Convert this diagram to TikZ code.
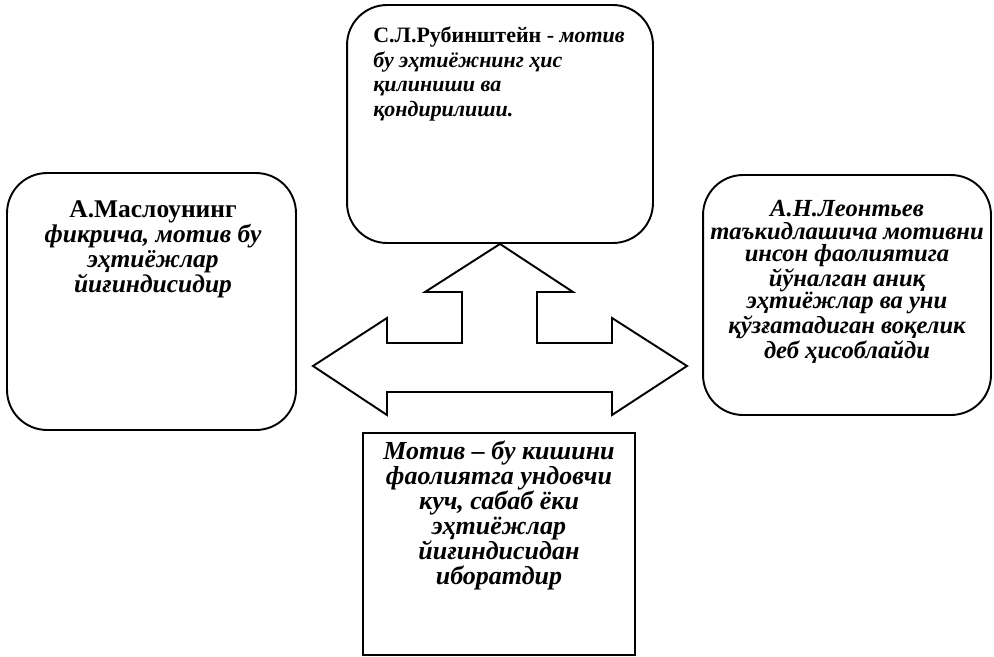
\documentclass[tikz,border=0pt]{standalone}
\usepackage{fontspec}
\setmainfont{Liberation Serif}

\tikzset{
  frame/.style={draw, line width=1.1pt, rounded corners=0.8cm, inner sep=0pt},
  plainframe/.style={draw, line width=1.1pt, inner sep=0pt},
  txt/.style={inner sep=0pt, anchor=north, align=center,
    font=\fontsize{12.5}{14.2}\selectfont\bfseries\itshape}
}

\begin{document}
\begin{tikzpicture}[x=0.02cm,y=-0.02cm]
\useasboundingbox (0,0) rectangle (994,656);

% Boxes
\node[frame, minimum width=6.12cm, minimum height=4.76cm] (rub) at (500,124) {};
\node[frame, minimum width=5.78cm, minimum height=5.14cm] (masl) at (151.5,301.5) {};
\node[frame, minimum width=5.76cm, minimum height=4.8cm] (leon) at (847,295) {};
\node[plainframe, minimum width=5.44cm, minimum height=4.44cm] (motiv) at (499,544) {};

% Texts
\node[txt, anchor=north west, align=left] (rubtxt) at (373,26)
{{\upshape С.Л.Рубинштейн -} мотив\\бу эҳтиёжнинг ҳис\\қилиниши ва\\қондирилиши.};

\node[txt, font=\fontsize{14.5}{14.2}\selectfont\bfseries\itshape] (masltxt) at (153,200)
{{\upshape А.Маслоунинг}\\фикрича, мотив бу\\эҳтиёжлар\\йиғиндисидир};

\node[txt, font=\fontsize{14}{12.8}\selectfont\bfseries\itshape] (leontxt) at (847,200)
{А.Н.Леонтьев\\таъкидлашича мотивни\\инсон фаолиятига\\йўналган аниқ\\эҳтиёжлар ва уни\\қўзғатадиган воқелик\\деб ҳисоблайди};

\node[txt, font=\fontsize{14.8}{14.2}\selectfont\bfseries\itshape] (motivtxt) at (499,441)
{Мотив – бу кишини\\фаолиятга ундовчи\\куч, сабаб ёки\\эҳтиёжлар\\йиғиндисидан\\иборатдир};

% Arrow
\draw[line width=1.1pt, line join=miter] (rub.south) -- (573,292) -- (537,292) -- (537,343)
  -- (612,343) -- (612,318) -- (687,366) -- (612,415) -- (612,392)
  -- (387,392) -- (387,415) -- (313,366) -- (387,318) -- (387,343)
  -- (462,343) -- (462,292) -- (425,292) -- cycle;

\end{tikzpicture}
\end{document}
